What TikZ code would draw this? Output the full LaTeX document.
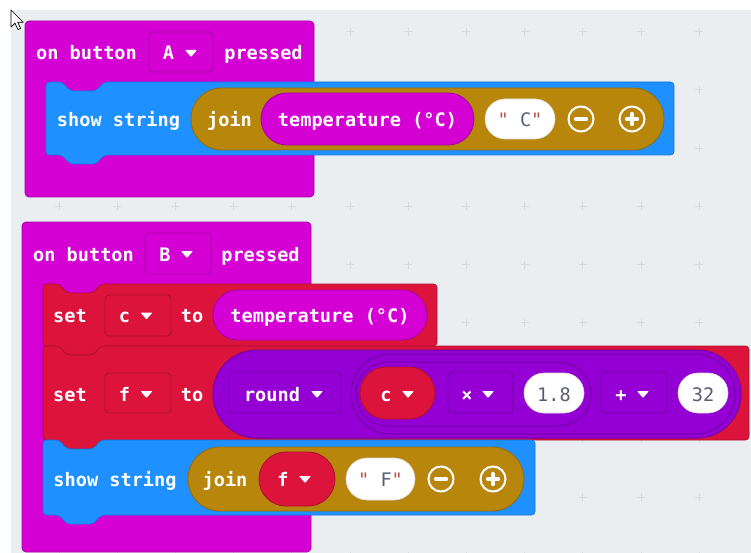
\documentclass[tikz,border=0pt]{standalone}
\usepackage{fontspec}
\setmonofont{DejaVu Sans Mono}

\definecolor{ws}{HTML}{EAEEF0}
\definecolor{gridmark}{HTML}{D5DADE}
\definecolor{magc}{HTML}{D400D4}
\definecolor{magd}{HTML}{A800A8}
\definecolor{bluec}{HTML}{1E90FF}
\definecolor{blued}{HTML}{1A78D6}
\definecolor{brownc}{HTML}{B8860B}
\definecolor{brownd}{HTML}{956C08}
\definecolor{redc}{HTML}{DC143C}
\definecolor{redd}{HTML}{B01030}
\definecolor{purc}{HTML}{9400D3}
\definecolor{purd}{HTML}{7300A6}
\definecolor{valtext}{HTML}{575E75}
\definecolor{quotec}{HTML}{B5524C}
\definecolor{pilledge}{HTML}{D9D9D9}

\tikzset{
  magblk/.style={fill=magc, draw=magd, line width=0.7pt},
  blueblk/.style={fill=bluec, draw=blued, line width=0.7pt},
  redblk/.style={fill=redc, draw=redd, line width=0.7pt},
  magp/.style={fill=magc, draw=magd, line width=0.9pt},
  brownp/.style={fill=brownc, draw=brownd, line width=0.9pt},
  redp/.style={fill=redc, draw=redd, line width=0.9pt},
  purp/.style={fill=purc, draw=purd, line width=1pt},
  whitep/.style={fill=white, draw=pilledge, line width=0.6pt},
  magdd/.style={fill=magc, draw=magd, line width=0.9pt},
  reddd/.style={fill=redc, draw=redd, line width=0.9pt},
  purdd/.style={fill=purc, draw=purd, line width=0.9pt},
  lbl/.style={anchor=base, inner sep=0pt, text=white,
    font=\ttfamily\bfseries\fontsize{18.6pt}{20pt}\selectfont},
  val/.style={anchor=base, inner sep=0pt, text=valtext,
    font=\ttfamily\fontsize{18.6pt}{20pt}\selectfont},
  icon/.style={circle, draw=white, line width=2pt, minimum size=25pt, inner sep=0pt},
  iconbar/.style={white, line width=3.2pt, line cap=round},
  gridplus/.style={draw=gridmark, line width=0.8pt},
}

% pill-shaped reporter slot: name, style, x1, y1, x2, y2
\newcommand\pillnode[6]{%
  \pgfmathsetmacro\pillw{#5-#3}%
  \pgfmathsetmacro\pillh{#6-#4}%
  \pgfmathsetmacro\pillr{\pillh/2-0.05}%
  \node[#2, minimum width=\pillw pt, minimum height=\pillh pt,
        rounded corners=\pillr pt, inner sep=0pt, outer sep=0pt]
        (#1) at ({(#3+#5)/2},{(#4+#6)/2}) {};}

% dropdown field box: name, style, x1, y1, x2, y2
\newcommand\ddbox[6]{%
  \pgfmathsetmacro\ddw{#5-#3}%
  \pgfmathsetmacro\ddh{#6-#4}%
  \node[#2, minimum width=\ddw pt, minimum height=\ddh pt,
        rounded corners=4pt, inner sep=0pt, outer sep=0pt]
        (#1) at ({(#3+#5)/2},{(#4+#6)/2}) {};}

% small dropdown arrow
\newcommand\ddtri[2]{%
  \fill[white, rounded corners=0.8pt] ({#1-6},{#2-3.5}) -- ({#1+6},{#2-3.5}) -- (#1,{#2+3.5}) -- cycle;}

% statement block with top notch and bottom tab: style, x1, y1, x2, y2
\newcommand\stackblock[5]{%
  \draw[#1, rounded corners=3.5pt] (#2,#3) -- ({#2+16},#3) -- ({#2+24},{#3+9})
    -- ({#2+50},{#3+9}) -- ({#2+58},#3) -- (#4,#3) -- (#4,#5) -- ({#2+58},#5)
    -- ({#2+50},{#5+9}) -- ({#2+24},{#5+9}) -- ({#2+16},#5) -- (#2,#5) -- cycle;}

\newcommand\qm{{\color{quotec}"}}

\begin{document}
\begin{tikzpicture}[x=1pt,y=-1pt]
\useasboundingbox (0,0) rectangle (751,553);
\clip (0,0) rectangle (751,553);

% workspace
\fill[white] (0,0) rectangle (751,553);
\fill[ws] (11,10) rectangle (751,553);
\foreach \i in {1,...,12}{
  \foreach \j in {0,...,9}{
    \draw[gridplus] ({0.8+58.2*\i-4},{31.7+58.2*\j}) -- ++(8,0)
                    ({0.8+58.2*\i},{31.7+58.2*\j-4}) -- ++(0,8);
  }
}

% mouse pointer
\draw[black, fill=white, line width=0.7pt, line join=round]
  (11,10) -- (11,27) -- (15,23.2) -- (18,29.5) -- (20.6,28.4) -- (17.7,22.2) -- (23.2,22.2) -- cycle;

% ---------- on button A pressed ----------
\draw[magblk, rounded corners=4pt] (25,21) rectangle (314,197);
\node[lbl] (onA) at (86.5,60) {on button};
\ddbox{ddA}{magdd}{149}{32}{213}{72}
\node[lbl] (keyA) at (168.5,60) {A};
\ddtri{191}{53.5}
\node[lbl] (prA) at (263.5,60) {pressed};

\stackblock{blueblk}{46}{82}{674}{155}
\node[lbl] (showA) at (118.5,126.5) {show string};
\pillnode{joinA}{brownp}{191}{88}{664}{150}
\node[lbl] (joinAt) at (229.5,126.5) {join};
\pillnode{tempA}{magp}{261}{93}{474}{145}
\node[lbl] (tempAt) at (367.5,126.5) {temperature (°C)};
\pillnode{strA}{whitep}{485}{99}{555}{139}
\node[val] (strAt) at (520,126.5) {\qm{} C\qm};
\node[icon] (minA) at (581,119) {};
\draw[iconbar] ([xshift=-5.5pt]minA.center) -- ([xshift=5.5pt]minA.center);
\node[icon] (plusA) at (632,119) {};
\draw[iconbar] ([xshift=-5.5pt]plusA.center) -- ([xshift=5.5pt]plusA.center);
\draw[iconbar] ([yshift=-5.5pt]plusA.center) -- ([yshift=5.5pt]plusA.center);

% ---------- on button B pressed ----------
\draw[magblk, rounded corners=4pt] (22,222) rectangle (311,552);
\node[lbl] (onB) at (83.5,261) {on button};
\ddbox{ddB}{magdd}{145}{233}{211}{274}
\node[lbl] (keyB) at (165,261) {B};
\ddtri{187}{254.5}
\node[lbl] (prB) at (260.5,261) {pressed};

% set c to temperature
\stackblock{redblk}{43}{284}{437}{346}
\node[lbl] (setc) at (70,322.5) {set};
\ddbox{ddc}{reddd}{105}{295}{171}{336}
\node[lbl] (varc) at (124.5,322.5) {c};
\ddtri{146.5}{316}
\node[lbl] (toc) at (192,322.5) {to};
\pillnode{tempB}{magp}{213}{290}{427}{340}
\node[lbl] (tempBt) at (320,322.5) {temperature (°C)};

% set f to round(c x 1.8 + 32)
\stackblock{redblk}{43}{346}{749}{440}
\node[lbl] (setf) at (70,401) {set};
\ddbox{ddf}{reddd}{105}{373}{171}{413}
\node[lbl] (varf) at (124.5,401) {f};
\ddtri{146.5}{394.5}
\node[lbl] (tof) at (192,401) {to};
\pillnode{roundp}{purp}{213}{350}{741}{438}
\ddbox{ddround}{purdd}{229}{372}{341}{413}
\node[lbl] (roundt) at (272,401) {round};
\ddtri{317}{394.5}
\pillnode{addp}{purp}{351}{354}{735}{434}
\pillnode{mulp}{purp}{356}{362}{591}{426}
\pillnode{cref}{redp}{360}{367}{435}{419}
\node[lbl] (creft) at (386,401) {c};
\ddtri{408}{394.5}
\ddbox{ddmul}{purdd}{448}{372}{513}{413}
\node[lbl] (mult) at (467,401) {×};
\ddtri{488}{394.5}
\pillnode{numa}{whitep}{524}{373}{584}{413}
\node[val] (numat) at (554,401) {1.8};
\ddbox{ddadd}{purdd}{601}{372}{667}{413}
\node[lbl] (addt) at (621,401) {+};
\ddtri{643}{394.5}
\pillnode{numb}{whitep}{678}{373}{728}{413}
\node[val] (numbt) at (703,401) {32};

% show string join(f, "F")
\stackblock{blueblk}{43}{440}{535}{515}
\node[lbl] (showB) at (115,486) {show string};
\pillnode{joinB}{brownp}{188}{447}{524}{511}
\node[lbl] (joinBt) at (225,486) {join};
\pillnode{fref}{redp}{259}{452}{335}{506}
\node[lbl] (freft) at (283,486) {f};
\ddtri{305}{479.5}
\pillnode{strB}{whitep}{346}{458}{415}{500}
\node[val] (strBt) at (380.5,486) {\qm{} F\qm};
\node[icon] (minB) at (441,479) {};
\draw[iconbar] ([xshift=-5.5pt]minB.center) -- ([xshift=5.5pt]minB.center);
\node[icon] (plusB) at (493,479) {};
\draw[iconbar] ([xshift=-5.5pt]plusB.center) -- ([xshift=5.5pt]plusB.center);
\draw[iconbar] ([yshift=-5.5pt]plusB.center) -- ([yshift=5.5pt]plusB.center);

\end{tikzpicture}
\end{document}
